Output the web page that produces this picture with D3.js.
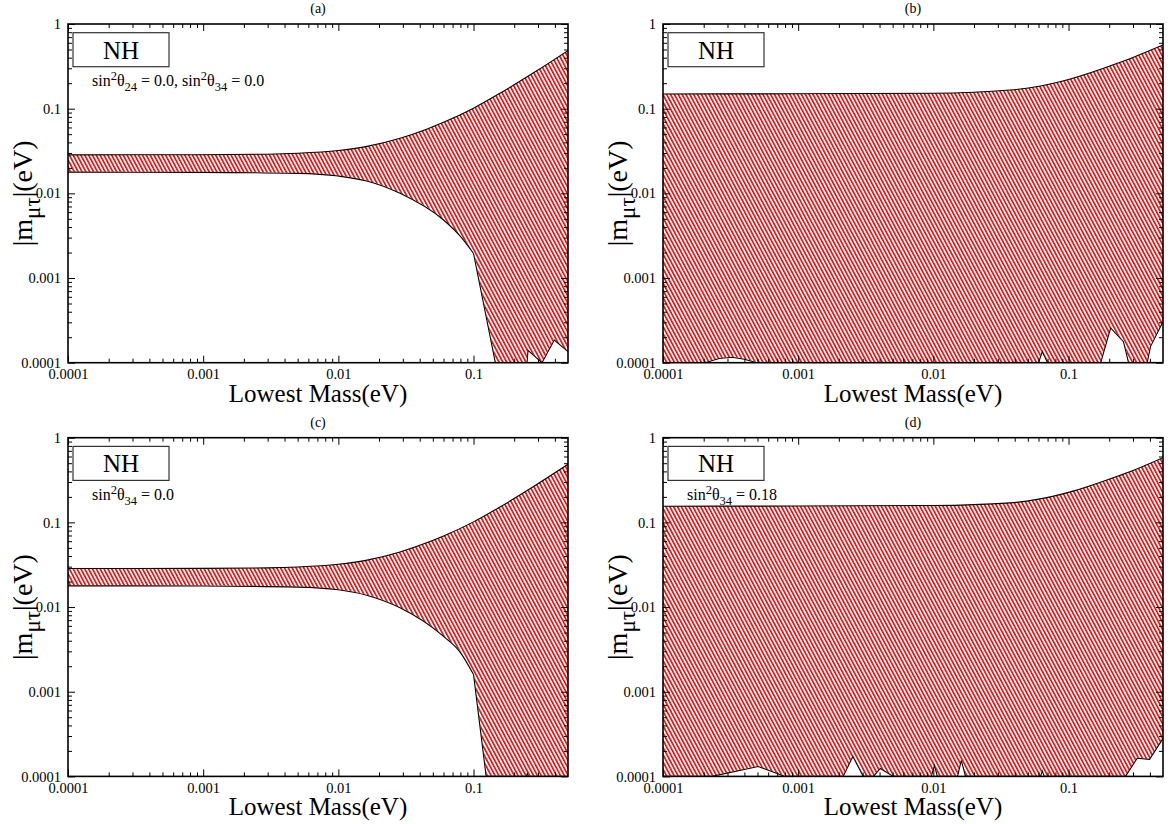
<!DOCTYPE html>
<html><head><meta charset="utf-8">
<script src="https://cdnjs.cloudflare.com/ajax/libs/d3/7.8.5/d3.min.js"></script>
<style>
html,body{margin:0;padding:0;background:#fff;}
text{font-family:"Liberation Serif","Times New Roman",serif;fill:#000;}
</style></head>
<body>
<svg id="chart" width="1170" height="824"></svg>
<script>
// ---- data ----
const panelTitles = ["(a)", "(b)", "(c)", "(d)"];
const xTickValues = [1e-4, 1e-3, 1e-2, 1e-1];
const xTickLabels = ["0.0001", "0.001", "0.01", "0.1"];
const yTickValues = [1e-4, 1e-3, 1e-2, 1e-1, 1];
const yTickLabels = ["0.0001", "0.001", "0.01", "0.1", "1"];
const xDomain = [1e-4, 0.5];
const yDomain = [1e-4, 1];
const xAxisTitle = "Lowest Mass(eV)";
const boxLabel = "NH";

// upper / lower boundaries of the allowed band: [lowest mass, |m_mu tau|]
const upperA = [[1e-4,0.0285],[1e-3,0.0286],[3e-3,0.029],[0.005,0.0297],[0.01,0.032],[0.016,0.0356],[0.0286,0.0447],[0.045,0.0573],[0.06,0.069],[0.1,0.1014],[0.158,0.153],[0.278,0.265],[0.5,0.485]];
const lowerA = [[1e-4,0.0178],[1e-3,0.0177],[0.005,0.0172],[0.01,0.016],[0.0162,0.0140],[0.0286,0.0100],[0.06,0.00484],[0.08,0.0031],[0.1,0.00195],[0.145,9e-5],[0.2,4e-5],[0.249,9e-5],[0.253,1.4e-4],[0.321,9e-5],[0.396,1.85e-4],[0.5,1.35e-4]];

const upperB = [[1e-4,0.149],[1e-3,0.15],[0.01,0.152],[0.037,0.166],[0.062,0.185],[0.1,0.221],[0.23,0.343],[0.303,0.406],[0.5,0.565]];
const lowerB = [[1e-4,5e-5],[2.05e-4,1e-4],[2.6e-4,1.12e-4],[3.23e-4,1.16e-4],[4e-4,1.1e-4],[4.94e-4,1e-4],[6e-4,5e-5],[0.058,5e-5],[0.06,1e-4],[0.064,1.35e-4],[0.07,1e-4],[0.08,5e-5],[0.173,1e-4],[0.205,2.57e-4],[0.255,1.77e-4],[0.278,1e-4],[0.33,5e-5],[0.382,1e-4],[0.404,1.55e-4],[0.5,3.05e-4]];

const upperC = [[1e-4,0.0285],[1e-3,0.0286],[3e-3,0.029],[0.005,0.0297],[0.01,0.032],[0.016,0.0356],[0.0286,0.0447],[0.045,0.0573],[0.06,0.069],[0.1,0.1014],[0.158,0.153],[0.278,0.265],[0.5,0.485]];
const lowerC = [[1e-4,0.0178],[1e-3,0.0177],[0.005,0.0172],[0.01,0.016],[0.0162,0.0138],[0.0286,0.0098],[0.06,0.0045],[0.08,0.0029],[0.1,0.0016],[0.124,9e-5],[0.2,3e-5],[0.245,9e-5],[0.25,1.08e-4],[0.255,9e-5],[0.5,5e-5]];

const upperD = [[1e-4,0.155],[1e-3,0.156],[0.01,0.158],[0.037,0.17],[0.06,0.188],[0.1,0.226],[0.23,0.35],[0.3,0.41],[0.5,0.58]];
const lowerD = [[1e-4,5e-5],[2.3e-4,1e-4],[5.06e-4,1.31e-4],[8e-4,1e-4],[0.001,5e-5],[0.00215,1e-4],[0.00254,1.72e-4],[0.00303,1e-4],[0.0033,5e-5],[0.0036,1e-4],[0.00405,1.24e-4],[0.00506,1e-4],[0.007,5e-5],[0.00966,1e-4],[0.0102,1.35e-4],[0.0107,1e-4],[0.013,5e-5],[0.0151,1e-4],[0.0161,1.55e-4],[0.0173,1e-4],[0.03,5e-5],[0.062,1e-4],[0.064,1.16e-4],[0.066,1e-4],[0.1,5e-5],[0.264,1e-4],[0.322,1.64e-4],[0.398,1.59e-4],[0.5,2.81e-4]];

// lowest mass up to which the lower boundary is a smooth curve (beyond: straight segments)
const smoothLowerUntil = [0.1, 0, 0.1, 0];

// annotations: [text, kind] where kind: n normal, p superscript, b subscript
const annotA = [["sin","n"],["2","p"],["θ","n"],["24","b"],[" = 0.0, sin","n"],["2","p"],["θ","n"],["34","b"],[" = 0.0","n"]];
const annotB = [];
const annotC = [["sin","n"],["2","p"],["θ","n"],["34","b"],[" = 0.0","n"]];
const annotD = [["sin","n"],["2","p"],["θ","n"],["34","b"],[" = 0.18","n"]];

// ---- drawing ----
const svg = d3.select("#chart");
const defs = svg.append("defs");
const pat = defs.append("pattern").attr("id","hatch").attr("patternUnits","userSpaceOnUse")
  .attr("width",3.4).attr("height",20).attr("patternTransform","rotate(-28)");
pat.append("rect").attr("width",3.4).attr("height",20).attr("fill","#fff");
pat.append("rect").attr("x",0).attr("width",1.6).attr("height",20).attr("fill","#ff0000");

const W = 500, H = 338.7;
const layout = [
  {left:68, top:24, upper:upperA, lower:lowerA, annot:annotA},
  {left:663, top:24, upper:upperB, lower:lowerB, annot:annotB},
  {left:68, top:437.7, upper:upperC, lower:lowerC, annot:annotC},
  {left:663, top:437.7, upper:upperD, lower:lowerD, annot:annotD},
];

function minorTicks(lo, hi){
  const out=[];
  for(let e=-4;e<=0;e++){ for(let m=2;m<=9;m++){ const v=m*Math.pow(10,e); if(v>lo*1.0001 && v<hi*0.9999) out.push(v);} }
  return out;
}
const xMinor = minorTicks(xDomain[0], xDomain[1]);
const yMinor = minorTicks(yDomain[0], yDomain[1]);
const FONT = "'Liberation Serif','Times New Roman',serif";

layout.forEach((p,idx)=>{
  const g = svg.append("g").attr("transform",`translate(${p.left},${p.top})`);
  const x = d3.scaleLog().domain(xDomain).range([0,W]);
  const y = d3.scaleLog().domain(yDomain).range([H,0]).clamp(true);
  const clipId = "clip"+idx;
  defs.append("clipPath").attr("id",clipId).append("rect").attr("width",W).attr("height",H);

  const cut = smoothLowerUntil[idx];
  const lowSmooth = p.lower.filter(d=>d[0]<=cut);
  const lowSharp = p.lower.filter(d=>d[0]>=cut);

  const areaSmooth = d3.area().x(d=>x(d[0])).y0(H).y1(d=>y(d[1])).curve(d3.curveMonotoneX);
  const areaSharp = d3.area().x(d=>x(d[0])).y0(H).y1(d=>y(d[1]));
  const lineSmooth = d3.line().x(d=>x(d[0])).y(d=>y(d[1])).curve(d3.curveMonotoneX);
  const lineSharp = d3.line().x(d=>x(d[0])).y(d=>y(d[1]));

  const plot = g.append("g").attr("clip-path",`url(#${clipId})`);
  plot.append("path").attr("d", areaSmooth(p.upper)).attr("fill","url(#hatch)");
  if(lowSmooth.length>1) plot.append("path").attr("d", areaSmooth(lowSmooth)).attr("fill","#fff").attr("stroke","#fff").attr("stroke-width",1);
  plot.append("path").attr("d", areaSharp(lowSharp)).attr("fill","#fff").attr("stroke","#fff").attr("stroke-width",1);
  plot.append("path").attr("d", lineSmooth(p.upper)).attr("fill","none").attr("stroke","#000").attr("stroke-width",1.1);
  if(lowSmooth.length>1) plot.append("path").attr("d", lineSmooth(lowSmooth)).attr("fill","none").attr("stroke","#000").attr("stroke-width",1.1);
  plot.append("path").attr("d", lineSharp(lowSharp)).attr("fill","none").attr("stroke","#000").attr("stroke-width",1.1);

  // axes
  const styleAxis = sel => { sel.attr("font-family",FONT).attr("font-size",14.5); sel.select(".domain").remove(); sel.selectAll(".tick line").attr("stroke","#000").attr("stroke-width",1); sel.selectAll("text").attr("fill","#000"); };
  g.append("g").attr("transform",`translate(0,${H})`)
    .call(d3.axisBottom(x).tickValues(xTickValues).tickFormat((d,i)=>xTickLabels[i]).tickSize(-7).tickPadding(6)).call(styleAxis);
  g.append("g").attr("transform",`translate(0,${H})`)
    .call(d3.axisBottom(x).tickValues(xMinor).tickFormat("").tickSize(-4)).call(styleAxis);
  g.append("g").call(d3.axisTop(x).tickValues(xTickValues).tickFormat("").tickSize(-7)).call(styleAxis);
  g.append("g").call(d3.axisTop(x).tickValues(xMinor).tickFormat("").tickSize(-4)).call(styleAxis);
  g.append("g")
    .call(d3.axisLeft(y).tickValues(yTickValues).tickFormat((d,i)=>yTickLabels[i]).tickSize(-7).tickPadding(7)).call(styleAxis);
  g.append("g").call(d3.axisLeft(y).tickValues(yMinor).tickFormat("").tickSize(-4)).call(styleAxis);
  g.append("g").attr("transform",`translate(${W},0)`)
    .call(d3.axisRight(y).tickValues(yTickValues).tickFormat("").tickSize(-7)).call(styleAxis);
  g.append("g").attr("transform",`translate(${W},0)`)
    .call(d3.axisRight(y).tickValues(yMinor).tickFormat("").tickSize(-4)).call(styleAxis);

  g.append("rect").attr("width",W).attr("height",H).attr("fill","none").attr("stroke","#000").attr("stroke-width",1.6);

  // title
  g.append("text").attr("x",W/2).attr("y",-11).attr("text-anchor","middle").style("font-size","14px").text(panelTitles[idx]);

  // axis titles
  g.append("text").attr("x",W/2).attr("y",H+39).attr("text-anchor","middle").style("font-size","25px").text(xAxisTitle);
  const yt = g.append("text").attr("transform",`translate(${-36},${H/2}) rotate(-90)`).attr("text-anchor","middle").style("font-size","28px");
  yt.append("tspan").text("|m");
  yt.append("tspan").attr("dy",8).style("font-size","23px").text("μτ");
  yt.append("tspan").attr("dy",-8).text("|(eV)");

  // NH box
  g.append("rect").attr("x",5).attr("y",8.7).attr("width",96).attr("height",34).attr("fill","#fff").attr("stroke","#333").attr("stroke-width",1.2);
  g.append("text").attr("x",53).attr("y",34.5).attr("text-anchor","middle").style("font-size","25px").text(boxLabel);

  if(p.annot.length){
    const t = g.append("text").attr("x",24).attr("y",62).style("font-size","16px");
    let cur = 0;
    p.annot.forEach(([s,k])=>{
      const target = k==="p"?-6:(k==="b"?5:0);
      const ts = t.append("tspan").attr("dy",target-cur).text(s);
      if(k!=="n") ts.style("font-size","12.5px");
      cur = target;
    });
  }
});
</script>
</body></html>
